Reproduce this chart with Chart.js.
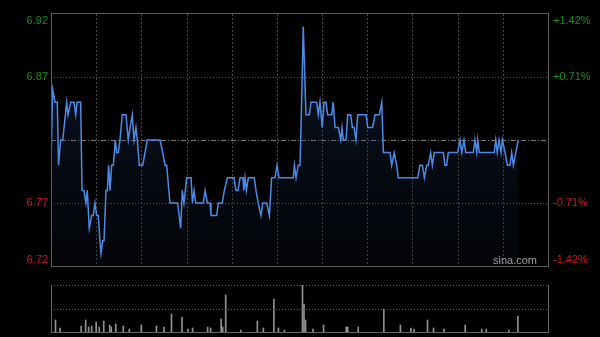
<!doctype html>
<html lang="zh">
<head>
  <meta charset="utf-8">
  <title>分时图</title>
  <style>
    html,body{
      width:100%;
      height:100%;
      margin:0;
      padding:0;overflow:hidden;
      background:#000;
    }
    #c0{position:absolute;left:0;top:0;}
    #c1{position:absolute;left:0;top:270px;}
  </style>
</head>
<body>

  <canvas id="c0" width="600" height="270"></canvas>
  <canvas id="c1" width="600" height="67"></canvas>

  <script src="https://cdn.jsdelivr.net/npm/chart.js@4/dist/chart.umd.min.js"></script>
  <script>
    // price line, minutes after the open (0 .. 330)
    var minutes = [0,1.1,2.7,4.2,5,6.4,7.8,10.4,11.3,13.1,
      15.3,16.4,17.3,19.7,20.6,21.9,23.2,24.1,25.4,27,
      28,29.2,30.3,31.4,32.5,33.2,34.3,35.2,36.5,37.4,
      38.3,39.2,40.3,41.4,42.7,43.6,44.7,45.8,47.3,49.8,
      51.3,52.5,54,55.1,56.4,57.3,58.6,60.9,62.4,63.9,
      72.4,74.2,75.7,76.8,79,84.1,86.1,87.2,88.3,90.1,
      93,93.9,95,96.1,101.1,102.3,103.8,105.6,106.2,110,
      111.1,113.7,115.1,117.1,121.5,122.8,124.2,125.5,127.5,128,
      128.8,129.7,131,135,136.1,137.6,139.4,140.6,143.2,145,
      146.5,148.7,150.1,151.4,160.9,161.6,162.7,164.2,165.3,166.2,
      167.5,169.3,171.5,172.6,176.4,177.5,178.6,180.1,181.3,182.6,
      183.7,186.4,187.4,188.6,190.8,192.4,193.2,194.1,195.9,197,
      199,200.1,201.2,202.5,203.6,209.2,210.3,213.6,215.1,218,
      219.6,220.7,222.4,225.1,226.2,227.9,228.4,229.5,230.6,243.5,
      245,246.6,247.9,249.5,250.5,252.1,253.2,254.5,260.5,261.6,
      262.7,263.8,270,271.6,272.7,274.2,275.4,280.4,281.5,282.7,
      283.3,284.4,294.3,295.3,296.3,297.5,298.8,299.7,301.5,303,
      304.8,305.9,307,308.6,310.3];
    var prices = [6.80,6.86,6.85,6.85,6.80,6.82,6.82,6.85,6.84,6.85,
      6.85,6.84,6.85,6.85,6.78,6.78,6.77,6.78,6.75,6.76,
      6.76,6.77,6.76,6.76,6.74,6.73,6.74,6.74,6.78,6.78,
      6.80,6.78,6.80,6.80,6.82,6.81,6.81,6.82,6.84,6.84,
      6.82,6.83,6.84,6.82,6.83,6.82,6.80,6.80,6.81,6.82,
      6.82,6.81,6.80,6.80,6.77,6.77,6.75,6.78,6.77,6.79,
      6.79,6.77,6.78,6.77,6.77,6.78,6.77,6.77,6.76,6.76,
      6.77,6.77,6.78,6.79,6.79,6.78,6.78,6.79,6.79,6.78,
      6.79,6.78,6.79,6.79,6.78,6.77,6.76,6.77,6.77,6.76,
      6.79,6.79,6.80,6.79,6.79,6.80,6.79,6.80,6.80,6.84,
      6.91,6.84,6.84,6.85,6.85,6.84,6.85,6.83,6.85,6.85,
      6.84,6.84,6.85,6.83,6.83,6.82,6.83,6.82,6.82,6.84,
      6.84,6.83,6.83,6.82,6.84,6.84,6.83,6.83,6.84,6.84,
      6.85,6.81,6.81,6.81,6.80,6.81,6.81,6.80,6.79,6.79,
      6.80,6.80,6.79,6.80,6.80,6.81,6.80,6.81,6.81,6.80,
      6.80,6.81,6.81,6.82,6.81,6.82,6.81,6.81,6.82,6.81,
      6.82,6.81,6.81,6.82,6.81,6.82,6.81,6.82,6.81,6.80,
      6.80,6.81,6.80,6.81,6.82];

    // volume spikes
    var volMinutes = [0,3,6,20,23,25,27,30,32,35,
      39,40,43,48,52,60,70,75,80,87,
      91,94,104,106,113,114,116,126,137,141,
      148,151,155,167,168,169,174,181,196,197,
      204,221,232,239,241,250,254,261,275,286,
      289,304,310];
    var volumes = [160,120,40,60,120,50,60,100,50,110,
      70,50,80,60,30,70,60,50,180,150,
      30,40,50,40,130,50,370,20,110,40,
      330,40,20,470,280,120,30,70,50,50,
      50,230,70,40,30,120,40,30,70,30,
      30,20,160];

    var prevClose = 6.82;
    var priceTicks = [6.92, 6.87, 6.82, 6.77, 6.72];
    var priceLabels = ['6.92', '6.87', '', '6.77', '6.72'];
    var pctLabels = ['+1.42%', '+0.71%', '', '-0.71%', '-1.42%'];
    var timeGrid = [30,60,90,120,150,180,210,240,270,300];
    var volMax = 470;

    var green = '#149214', red = '#cc1a1a';
    var font = '11px "Liberation Sans", Arial, sans-serif';

    function hline(ctx, x0, x1, y){ ctx.beginPath(); ctx.moveTo(x0, y); ctx.lineTo(x1, y); ctx.stroke(); }
    function vline(ctx, x, y0, y1){ ctx.beginPath(); ctx.moveTo(x, y0); ctx.lineTo(x, y1); ctx.stroke(); }

    var priceFrame = {
      id: 'priceFrame',
      beforeDatasetsDraw: function(chart){
        var ctx = chart.ctx, a = chart.chartArea, x = chart.scales.x, y = chart.scales.y;
        ctx.save();
        ctx.lineWidth = 1;
        ctx.strokeStyle = '#444';
        ctx.setLineDash([2,2]);
        timeGrid.forEach(function(m){
          vline(ctx, Math.round(x.getPixelForValue(m)) + 0.5, a.top, a.bottom);
        });
        priceTicks.forEach(function(v, i){
          if (i == 0 || i == priceTicks.length - 1) return;
          var py = Math.round(y.getPixelForValue(v)) + 0.5;
          if (v == prevClose){
            ctx.strokeStyle = '#7a7a7a';
            ctx.setLineDash([5,2,1,2]);
          } else {
            ctx.strokeStyle = '#5a5a5a';
            ctx.setLineDash([1,2]);
          }
          hline(ctx, a.left, a.right, py);
        });
        ctx.restore();
      },
      afterDraw: function(chart){
        var ctx = chart.ctx, a = chart.chartArea, y = chart.scales.y;
        ctx.save();
        ctx.strokeStyle = '#5c5c5c';
        ctx.lineWidth = 1;
        ctx.strokeRect(a.left + 0.5, a.top - 0.5, a.right - a.left, a.bottom - a.top + 1);
        ctx.font = font;
        priceTicks.forEach(function(v, i){
          if (!priceLabels[i]) return;
          var py = y.getPixelForValue(v);
          if (i == 0) { ctx.textBaseline = 'top'; py += 1; }
          else if (i == priceTicks.length - 1) { ctx.textBaseline = 'bottom'; py -= 1; }
          else ctx.textBaseline = 'middle';
          ctx.fillStyle = v > prevClose ? green : red;
          ctx.textAlign = 'right';
          ctx.fillText(priceLabels[i], a.left - 3, py);
          ctx.textAlign = 'left';
          ctx.fillText(pctLabels[i], a.right + 5, py);
        });
        ctx.fillStyle = '#a0a0a0';
        ctx.textAlign = 'right';
        ctx.textBaseline = 'bottom';
        ctx.fillText('sina.com', a.right - 11, a.bottom);
        ctx.restore();
      }
    };

    var volFrame = {
      id: 'volFrame',
      afterDraw: function(chart){
        var ctx = chart.ctx, a = chart.chartArea, y = chart.scales.y;
        ctx.save();
        ctx.lineWidth = 1;
        ctx.strokeStyle = '#5c5c5c';
        ctx.setLineDash([1,2]);
        hline(ctx, a.left, a.right, Math.round(y.getPixelForValue(volMax)) + 0.5);
        hline(ctx, a.left, a.right, Math.round(y.getPixelForValue(volMax / 2)) + 0.5);
        ctx.setLineDash([]);
        ctx.strokeStyle = '#666';
        vline(ctx, a.left + 0.5, a.top, a.bottom);
        vline(ctx, a.right + 0.5, a.top, a.bottom);
        hline(ctx, a.left, a.right + 1, a.bottom + 0.5);
        ctx.restore();
      }
    };

    var priceData = minutes.map(function(m, i){ return {x: m, y: prices[i]}; });
    var volData = volMinutes.map(function(m, i){ return {x: m, y: volumes[i]}; });

    new Chart(document.getElementById('c0'), {
      type: 'line',
      data: {
        datasets: [{
          data: priceData,
          borderColor: '#4d8ae6',
          borderWidth: 1.5,
          pointRadius: 0,
          tension: 0,
          fill: 'start',
          backgroundColor: function(c){
            var a = c.chart.chartArea;
            if (!a) return 'rgba(0,0,0,0)';
            var g = c.chart.ctx.createLinearGradient(0, a.top, 0, a.bottom);
            g.addColorStop(0, 'rgba(40,75,130,0.35)');
            g.addColorStop(1, 'rgba(20,35,60,0.12)');
            return g;
          }
        }]
      },
      options: {
        responsive: false,
        animation: false,
        devicePixelRatio: 1,
        layout: { padding: { left: 51, right: 52, top: 14, bottom: 4 } },
        plugins: { legend: { display: false }, tooltip: { enabled: false } },
        scales: {
          x: { type: 'linear', min: 0, max: 330, display: false },
          y: { min: 6.72, max: 6.92, display: false }
        }
      },
      plugins: [priceFrame]
    });

    new Chart(document.getElementById('c1'), {
      type: 'bar',
      data: {
        datasets: [{
          data: volData,
          backgroundColor: '#909090',
          barThickness: 1
        }]
      },
      options: {
        responsive: false,
        animation: false,
        devicePixelRatio: 1,
        layout: { padding: { left: 51, right: 52, top: 15, bottom: 5 } },
        plugins: { legend: { display: false }, tooltip: { enabled: false } },
        scales: {
          x: { type: 'linear', min: 0, max: 330, display: false, offset: false },
          y: { min: 0, max: volMax, display: false }
        }
      },
      plugins: [volFrame]
    });
  </script>
</body>
</html>
